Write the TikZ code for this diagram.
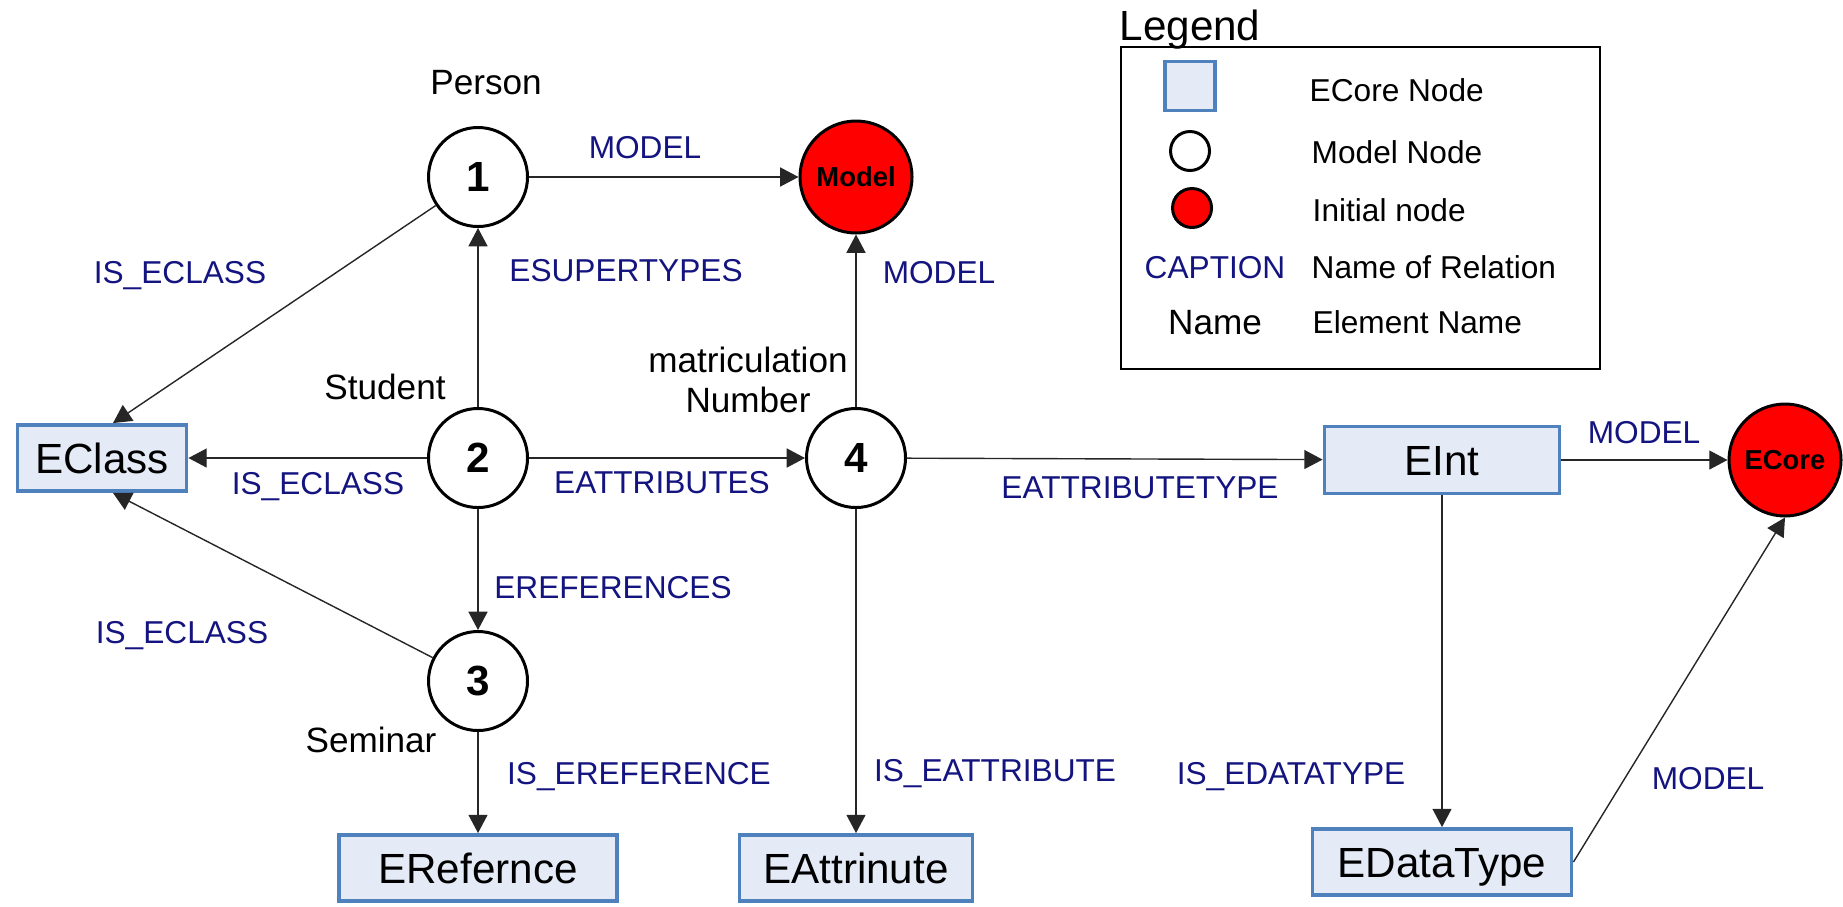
\documentclass[tikz,border=0pt]{standalone}
\usepackage{fontspec}
\setmainfont{Liberation Sans}
\usetikzlibrary{arrows.meta}

\definecolor{relblue}{RGB}{20,20,128}
\definecolor{ecorefill}{RGB}{228,235,247}
\definecolor{ecoreline}{RGB}{79,129,189}

\begin{document}
\begin{tikzpicture}[
		>={Triangle[length=5.2pt,width=5.4pt]},
		mnode/.style={circle, draw, line width=0.85pt, minimum size=0.99cm, inner sep=0pt, font=\fontsize{12}{14}\selectfont\bfseries},
		inode/.style={circle, draw, fill=red, line width=0.85pt, minimum size=1.12cm, inner sep=0pt, font=\fontsize{7.8}{9}\selectfont\bfseries},
		enode/.style={rectangle, draw=ecoreline, fill=ecorefill, line width=1.1pt, minimum height=0.66cm, inner sep=0pt, text height=8.6pt, text depth=0pt, font=\fontsize{12}{14}\selectfont},
		rel/.style={text=relblue, font=\fontsize{9}{11}\selectfont, inner sep=0pt, text height=6.45pt, text depth=0pt},
		ename/.style={font=\fontsize{10}{12}\selectfont, inner sep=0pt, text height=7.2pt, text depth=0pt},
		legtext/.style={anchor=west, font=\fontsize{9}{11}\selectfont, inner sep=0pt, text height=6.45pt, text depth=0pt},
		conn/.style={->, line width=0.4pt, black!85},
	]
		\useasboundingbox (0,0) rectangle (18.43,-9.06);

		% Model nodes and initial nodes
		\node[mnode] (n1) at (4.78,-1.77) {1};
		\node[mnode] (n2) at (4.78,-4.58) {2};
		\node[mnode] (n3) at (4.78,-6.81) {3};
		\node[mnode] (n4) at (8.56,-4.58) {4};
		\node[inode] (model) at (8.56,-1.77) {Model};
		\node[inode] (ecore) at (17.85,-4.60) {ECore};

		% ECore nodes
		\node[enode, minimum width=1.69cm] (eclass) at (1.02,-4.58) {EClass};
		\node[enode, minimum width=2.78cm] (erefernce) at (4.78,-8.68) {ERefernce};
		\node[enode, minimum width=2.33cm] (eattrinute) at (8.56,-8.68) {EAttrinute};
		\node[enode, minimum width=2.35cm, minimum height=0.67cm] (eint) at (14.42,-4.60) {EInt};
		\node[enode, minimum width=2.59cm] (edatatype) at (14.42,-8.62) {EDataType};

		% Element names
		\node[ename] (person) at (4.86,-0.82) {Person};
		\node[ename] (student) at (3.85,-3.87) {Student};
		\node[ename] (seminar) at (3.71,-7.40) {Seminar};
		\node[font=\fontsize{10}{11.6}\selectfont, inner sep=0pt, align=center] (matnr) at (7.48,-3.80) {matriculation\\Number};

		% Relations
		\draw[conn] (n1) -- (model);
		\draw[conn] (n1) -- ([xshift=0.11cm]eclass.north);
		\draw[conn] (n2) -- (n1);
		\draw[conn] (n2) -- (eclass);
		\draw[conn] (n2) -- (n4);
		\draw[conn] (n2) -- (n3);
		\draw[conn] (n3) -- ([xshift=0.11cm]eclass.south);
		\draw[conn] (n3) -- (erefernce);
		\draw[conn] (n4) -- (model);
		\draw[conn] (n4) -- (eint);
		\draw[conn] (n4) -- (eattrinute);
		\draw[conn] (eint) -- (ecore);
		\draw[conn] (eint) -- (edatatype);
		\draw[conn] (edatatype.east) -- (ecore.south);

		% Relation names
		\node[rel] (r1) at (6.45,-1.47) {MODEL};
		\node[rel] (r2) at (1.80,-2.72) {IS\_ECLASS};
		\node[rel] (r3) at (6.26,-2.70) {ESUPERTYPES};
		\node[rel] (r4) at (9.39,-2.72) {MODEL};
		\node[rel] (r5) at (3.18,-4.83) {IS\_ECLASS};
		\node[rel] (r6) at (6.62,-4.82) {EATTRIBUTES};
		\node[rel] (r7) at (11.40,-4.87) {EATTRIBUTETYPE};
		\node[rel] (r8) at (16.44,-4.32) {MODEL};
		\node[rel] (r9) at (6.13,-5.87) {EREFERENCES};
		\node[rel] (r10) at (1.82,-6.32) {IS\_ECLASS};
		\node[rel] (r11) at (6.39,-7.73) {IS\_EREFERENCE};
		\node[rel] (r12) at (9.95,-7.70) {IS\_EATTRIBUTE};
		\node[rel] (r13) at (12.91,-7.73) {IS\_EDATATYPE};
		\node[rel] (r14) at (17.08,-7.78) {MODEL};

		% Legend
		\node[anchor=west, font=\fontsize{12}{14}\selectfont, inner sep=0pt, text height=8.6pt, text depth=0pt] (legtitle) at (11.19,-0.25) {Legend};
		\draw[line width=0.7pt] (11.21,-0.47) rectangle (16.00,-3.69);
		\node[enode, minimum width=0.50cm, minimum height=0.49cm] (legecore) at (11.90,-0.86) {};
		\node[mnode, minimum size=0.39cm] (legmodel) at (11.90,-1.51) {};
		\node[inode, minimum size=0.39cm] (leginit) at (11.92,-2.08) {};
		\node[rel] (legcaption) at (12.15,-2.67) {CAPTION};
		\node[ename] (legname) at (12.15,-3.22) {Name};
		\node[legtext] (legt1) at (13.09,-0.90) {ECore Node};
		\node[legtext] (legt2) at (13.11,-1.52) {Model Node};
		\node[legtext] (legt3) at (13.12,-2.10) {Initial node};
		\node[legtext] (legt4) at (13.11,-2.67) {Name of Relation};
		\node[legtext] (legt5) at (13.12,-3.22) {Element Name};

	\end{tikzpicture}
\end{document}
